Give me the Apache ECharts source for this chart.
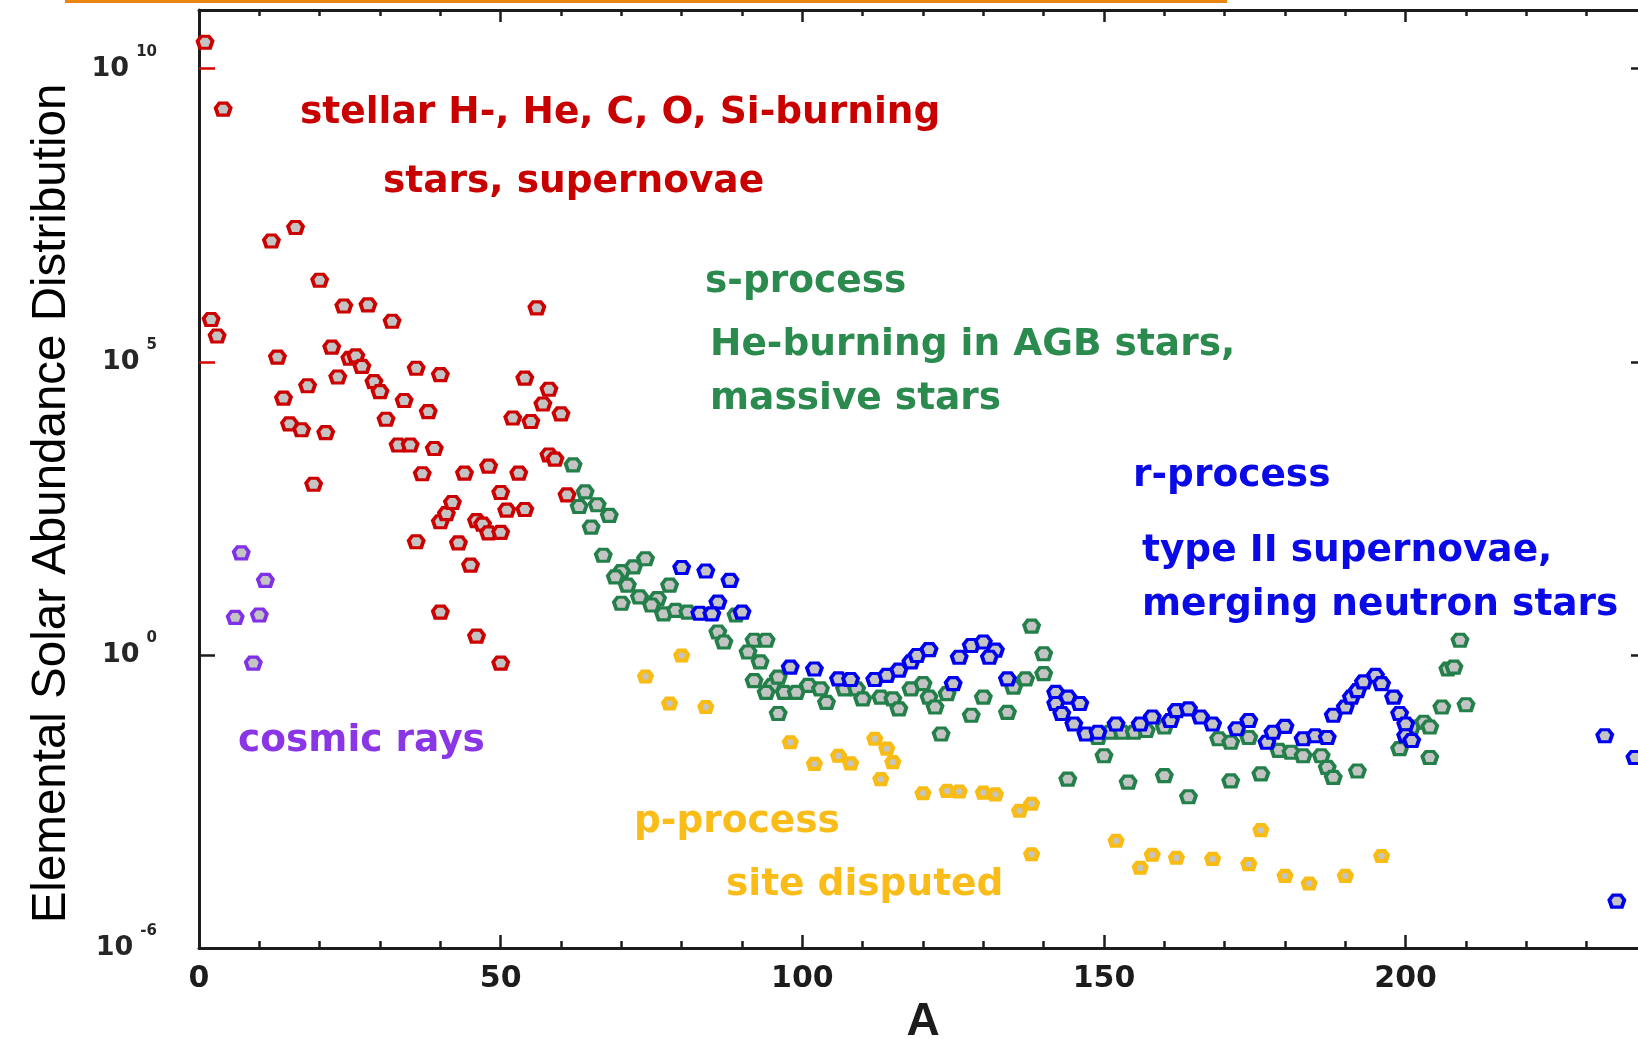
<!DOCTYPE html>
<html>
<head>
<meta charset="utf-8">
<style>
  html, body { margin: 0; padding: 0; background: #ffffff; }
  #chart { width: 1638px; height: 1039px; }
</style>
<script src="https://cdn.jsdelivr.net/npm/echarts@6/dist/echarts.min.js"></script>
</head>
<body>
<div id="chart"></div>
<script>
// Solar abundances by mass number A, as log10 of abundance (Si = 10^6).
// Each nucleosynthesis group keeps its own pair of arrays.
const stellarA = [1, 2, 3, 4, 12, 13, 14, 15, 16, 17, 18, 19, 20, 21, 22, 23, 24, 25, 26, 27, 28, 29,
  30, 31, 32, 33, 34, 35, 36, 37, 36, 38, 39, 40, 40, 40, 41, 42, 43, 44, 45, 46, 46, 47, 48, 48,
  50, 50, 50, 51, 52, 53, 54, 54, 55, 56, 57, 58, 58, 59, 60, 61];
const stellarLog = [10.45, 5.72, 5.44, 9.31, 7.06, 5.08, 4.38, 3.94, 7.29, 3.84, 4.59, 2.91, 6.39, 3.79,
  5.25, 4.74, 5.95, 5.06, 5.10, 4.92, 5.97, 4.66, 4.49, 4.02, 5.69, 3.58, 4.34, 3.58, 4.89, 3.09, 1.93,
  4.15, 3.52, 4.78, 2.27, 0.73, 2.41, 2.60, 1.91, 3.10, 1.53, 2.29, 0.32, 2.23, 3.22, 2.08,
  2.77, 2.09, -0.14, 2.47, 4.04, 3.10, 4.72, 2.48, 3.98, 5.92, 4.28, 4.53, 3.41, 3.34, 4.11, 2.73];

const cosmicA = [6, 7, 9, 10, 11];
const cosmicLog = [0.64, 1.74, -0.14, 0.68, 1.27];

const sProcA = [62, 64, 63, 66, 68, 65, 67, 74, 72, 70, 69, 71, 78, 73, 76, 70, 75, 77, 79, 81, 89, 86,
  87, 92, 94, 91, 93, 92, 95, 96, 94, 97, 99, 101, 96, 104, 103, 107, 109, 110, 113, 115, 116, 118,
  120, 121, 122, 124, 123, 128, 130, 134, 135, 137, 140, 138, 140, 144,
  149, 150, 151, 153, 155, 157, 160, 154, 160, 164, 169, 171, 174, 171, 176, 179, 181, 183, 186,
  187, 188, 192, 199, 201, 203, 204, 204, 206, 210, 207, 208, 209];
const sProcLog = [3.24, 2.78, 2.53, 2.56, 2.38, 2.18, 1.70, 1.64, 1.50, 1.42, 1.33, 1.19, 1.19, 0.99,
  0.96, 0.88, 0.85, 0.70, 0.76, 0.73, 0.68, 0.39, 0.22, 0.25, 0.25, 0.05, -0.12, -0.44, -0.52, -0.38,
  -0.64, -0.64, -0.64, -0.52, -1.00, -0.81, -0.58, -0.58, -0.58, -0.75, -0.72, -0.75, -0.92, -0.58,
  -0.49, -0.72, -0.89, -0.66, -1.35, -1.03, -0.72, -0.98, -0.55, -0.41, -0.32, 0.49, 0.02, -2.12,
  -1.41, -1.72, -1.32, -1.32, -1.32, -1.29, -1.23, -2.17, -2.06, -2.42, -1.43, -1.49, -1.41, -2.15,
  -2.03, -1.63, -1.66, -1.72, -1.72, -1.92, -2.09, -1.98, -1.60, -1.23, -1.15, -1.23, -1.75, -0.89,
  -0.85, -0.24, -0.21, 0.25];

const rProcA = [80, 84, 88, 86, 83, 85, 90, 98, 102, 106, 108, 112, 114, 116, 118, 119, 121, 125, 126,
  128, 130, 132, 131, 134, 142, 144, 142, 143, 145, 146, 147, 149, 152, 156, 158, 161, 162, 164, 166,
  168, 172, 174, 177, 178, 180, 183, 185, 187, 188, 190, 191, 192, 193, 195, 196, 198, 199, 200, 200,
  201, 233, 235, 238];
const rProcLog = [1.49, 1.43, 1.27, 0.90, 0.71, 0.70, 0.73, -0.21, -0.24, -0.41, -0.42, -0.42, -0.35,
  -0.26, -0.12, -0.01, 0.09, -0.49, -0.04, 0.16, 0.22, 0.08, -0.04, -0.41, -0.64, -0.72, -0.83, -1.00,
  -1.18, -0.83, -1.35, -1.32, -1.18, -1.18, -1.06, -1.12, -0.95, -0.92, -1.06, -1.18, -1.26, -1.12,
  -1.49, -1.32, -1.22, -1.43, -1.38, -1.41, -1.03, -0.89, -0.72, -0.61, -0.46, -0.35, -0.49, -0.72,
  -1.00, -1.18, -1.38, -1.46, -1.38, -4.20, -1.75];

const pProcA = [80, 74, 78, 84, 98, 102, 106, 108, 112, 114, 115, 113, 120, 124, 126, 130, 132, 136, 138,
  138, 152, 156, 158, 162, 168, 174, 176, 180, 184, 190, 196];
const pProcLog = [-0.01, -0.37, -0.83, -0.89, -1.49, -1.86, -1.72, -1.85, -1.43, -1.60, -1.83, -2.12,
  -2.36, -2.32, -2.33, -2.35, -2.38, -2.66, -2.54, -3.40, -3.17, -3.63, -3.41, -3.46, -3.48, -3.57,
  -2.99, -3.77, -3.90, -3.77, -3.43];

// Decade ticks on the abundance axis and the exponents printed beside them
const yTickValues = [-5, 0, 5, 10];
const yTickText = ['-6', '0', '5', '10'];

const zip = (xs, ys) => xs.map((x, i) => [x, ys[i]]);

const INK = '#1c1c1c';
const MARK_FILL = '#c4c4c4';
const MARK_PATH = 'path://M3,0 L9,0 L12,4 L10,10 L2,10 L0,4 Z';

function scatter(name, data, color, size, border) {
  return {
    name: name,
    type: 'scatter',
    xAxisIndex: 0,
    yAxisIndex: 0,
    data: data,
    symbol: MARK_PATH,
    symbolSize: size,
    itemStyle: { color: MARK_FILL, borderColor: color, borderWidth: border, opacity: 1 },
    emphasis: { disabled: true }
  };
}

function axisLine(show) {
  return { show: show, onZero: false, lineStyle: { color: INK, width: 3 } };
}

function xAxisBase(position, interval, tickLen, withLine) {
  return {
    type: 'value', min: 0, max: 240, interval: interval, position: position,
    axisLine: axisLine(withLine),
    axisTick: { show: true, inside: true, length: tickLen, lineStyle: { color: INK, width: 2.5 } },
    axisLabel: { show: false },
    splitLine: { show: false }
  };
}

const xMain = xAxisBase('bottom', 50, 13, true);
xMain.axisLabel = {
  show: true, showMaxLabel: false, margin: 16,
  fontFamily: 'DejaVu Sans', fontWeight: 'bold', fontSize: 30, color: INK
};
xMain.name = 'A';
xMain.nameLocation = 'middle';
xMain.nameGap = 48;
xMain.nameTextStyle = { fontFamily: 'Liberation Sans', fontWeight: 'bold', fontSize: 46, color: INK };

function yAxisBase(position, showLine, tickValues, tickColor, labels) {
  return {
    type: 'value', min: -5, max: 11, interval: 5, position: position,
    axisLine: axisLine(showLine),
    axisTick: { show: true, inside: true, length: 16, customValues: tickValues,
                lineStyle: { color: tickColor, width: 2.5 } },
    splitLine: { show: false },
    axisLabel: labels ? {
      show: true, showMaxLabel: false, margin: 42,
      formatter: function (v) {
        const i = yTickValues.indexOf(v);
        return i < 0 ? '' : '{b|10}{s|' + yTickText[i] + '}';
      },
      rich: {
        b: { fontFamily: 'DejaVu Sans', fontWeight: 'bold', fontSize: 27, lineHeight: 48, color: '#262626' },
        s: { fontFamily: 'DejaVu Sans', fontWeight: 'bold', fontSize: 15, lineHeight: 15,
             verticalAlign: 'top', padding: [0, 0, 0, 7], color: '#262626' }
      }
    } : { show: false }
  };
}

function note(text, x, y, color) {
  return {
    type: 'text', x: x, y: y, z: 50,
    style: {
      text: text, fill: color,
      font: 'bold 37.5px "DejaVu Sans", sans-serif',
      align: 'left', verticalAlign: 'middle',
      textAlign: 'left', textVerticalAlign: 'middle'
    }
  };
}

const RED = '#c80000', GREEN = '#2b8a4e', BLUE = '#0a0ae6', PURPLE = '#8a36e6', GOLD = '#f9bc18';

const chart = echarts.init(document.getElementById('chart'), null, { renderer: 'canvas' });
chart.setOption({
  animation: false,
  backgroundColor: '#ffffff',
  grid: { left: 199, top: 10, width: 1448, height: 938, containLabel: false, outerBoundsMode: 'none' },
  xAxis: [
    xMain,
    xAxisBase('bottom', 10, 7, false),
    xAxisBase('top', 50, 12, true),
    xAxisBase('top', 10, 6, false)
  ],
  yAxis: [
    yAxisBase('left', true, [-5, 0], INK, true),
    yAxisBase('right', true, [-5, 0, 5, 10], INK, false),
    yAxisBase('left', false, [5, 10], '#d40000', false)
  ],
  series: [
    scatter('stellar', zip(stellarA, stellarLog), '#cc0000', [15, 12], 3.5),
    scatter('cosmic rays', zip(cosmicA, cosmicLog), '#8030e8', [15, 12], 3.5),
    scatter('p-process', zip(pProcA, pProcLog), '#f8bc14', [12, 10], 4.5),
    scatter('s-process', zip(sProcA, sProcLog), '#23804a', [15, 12], 3.5),
    scatter('r-process', zip(rProcA, rProcLog), '#0000f0', [15, 12], 3.5)
  ],
  graphic: [
    { type: 'rect', shape: { x: 65, y: 0, width: 1162, height: 3 }, style: { fill: '#e8840f' }, z: 60 },
    {
      type: 'text', x: 51.5, y: 503.5, rotation: Math.PI / 2, z: 50,
      style: {
        text: 'Elemental Solar Abundance Distribution', fill: '#000000',
        font: '47.5px "Liberation Sans", Arial, sans-serif',
        align: 'center', verticalAlign: 'middle',
        textAlign: 'center', textVerticalAlign: 'middle'
      }
    },
    note('stellar H-, He, C, O, Si-burning', 300, 113, RED),
    note('stars, supernovae', 383, 182, RED),
    note('s-process', 705, 282, GREEN),
    note('He-burning in AGB stars,', 710, 345, GREEN),
    note('massive stars', 710, 399, GREEN),
    note('r-process', 1133, 476, BLUE),
    note('type II supernovae,', 1142, 551, BLUE),
    note('merging neutron stars', 1142, 605, BLUE),
    note('cosmic rays', 238, 741, PURPLE),
    note('p-process', 634, 822, GOLD),
    note('site disputed', 726, 885, GOLD)
  ]
});
</script>
</body>
</html>
